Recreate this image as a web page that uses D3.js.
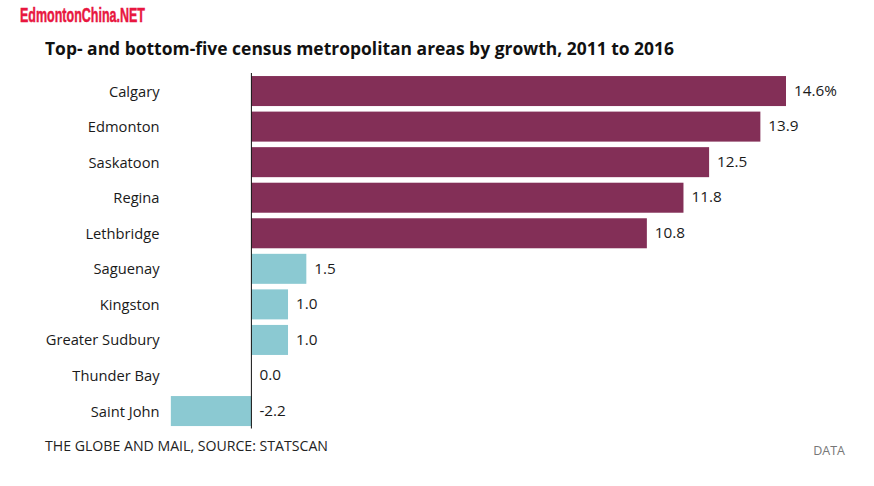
<!DOCTYPE html>
<html><head><meta charset="utf-8">
<script src="https://cdn.jsdelivr.net/npm/d3@7"></script>
<style>html,body{margin:0;padding:0;background:#fff}svg{display:block}text{font-family:"Open Sans",sans-serif}</style>
</head><body><svg id="c" width="874" height="486"></svg>
<script>
const categories=["Calgary","Edmonton","Saskatoon","Regina","Lethbridge","Saguenay","Kingston","Greater Sudbury","Thunder Bay","Saint John"];
const values=[14.6,13.9,12.5,11.8,10.8,1.5,1.0,1.0,0.0,-2.2];
const valueLabels=["14.6%","13.9","12.5","11.8","10.8","1.5","1.0","1.0","0.0","-2.2"];
const barColors=["#832f57","#832f57","#832f57","#832f57","#832f57","#8bc9d2","#8bc9d2","#8bc9d2","#8bc9d2","#8bc9d2"];
const svg=d3.select("#c");
const x=d3.scaleLinear().domain([0,14.6]).range([251.4,786]);
const y=d3.scaleBand().domain(categories).range([73.2,428.9]).paddingInner(0.156).paddingOuter(0.08);
svg.append("text").attr("x",20).attr("y",22.3).style("font-family","'Liberation Sans Narrow','Liberation Sans',sans-serif").attr("font-weight",700).attr("font-size",21).attr("fill","#e8173f").attr("stroke","#e8173f").attr("stroke-width",0.5).attr("textLength",125).attr("lengthAdjust","spacingAndGlyphs").text("EdmontonChina.NET");
svg.append("text").attr("x",45).attr("y",55).attr("font-weight",700).attr("font-size",17.5).attr("fill","#111").attr("textLength",629).attr("lengthAdjust","spacingAndGlyphs").text("Top- and bottom-five census metropolitan areas by growth, 2011 to 2016");
svg.selectAll("rect.b").data(values).join("rect").attr("class","b")
 .attr("x",d=>Math.min(x(d),x(0))).attr("width",d=>Math.abs(x(d)-x(0)))
 .attr("y",(d,i)=>y(categories[i])).attr("height",y.bandwidth()).attr("fill",(d,i)=>barColors[i]);
svg.append("line").attr("x1",x(0)).attr("x2",x(0)).attr("y1",73).attr("y2",428.5).attr("stroke","#111").attr("stroke-width",1);
svg.selectAll("text.c").data(categories).join("text").attr("class","c").attr("x",159.5).attr("y",d=>y(d)+y.bandwidth()/2+5.5).attr("text-anchor","end").attr("font-size",14.7).attr("fill","#1a1a1a").text(d=>d);
svg.selectAll("text.v").data(values).join("text").attr("class","v").attr("x",d=>Math.max(x(d),x(0))+8).attr("y",(d,i)=>y(categories[i])+y.bandwidth()/2+4.7).attr("font-size",15.3).attr("fill","#1a1a1a").text((d,i)=>valueLabels[i]);
svg.append("text").attr("x",45).attr("y",450.5).attr("font-size",14).attr("fill","#222").attr("textLength",283).attr("lengthAdjust","spacingAndGlyphs").text("THE GLOBE AND MAIL, SOURCE: STATSCAN");
svg.append("text").attr("x",845).attr("y",455).attr("text-anchor","end").attr("font-size",12.5).attr("fill","#777").text("DATA");
</script></body></html>
